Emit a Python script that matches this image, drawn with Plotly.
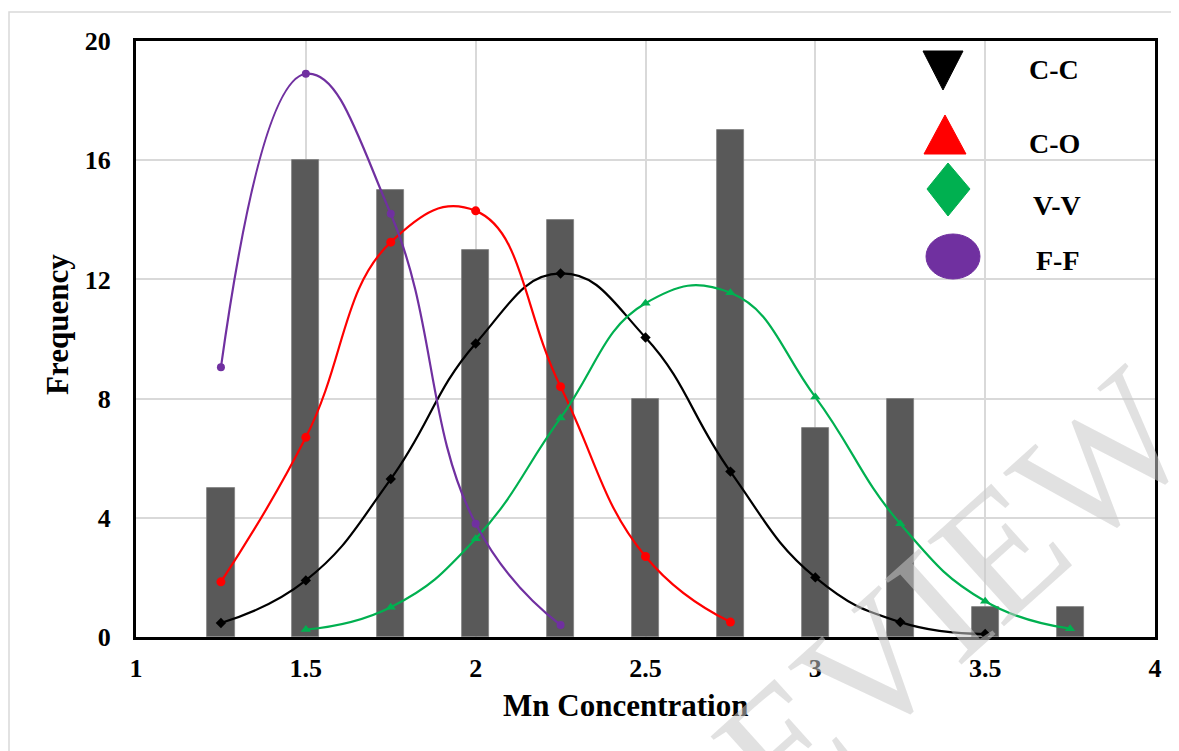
import plotly.graph_objects as go

# ---------------- data ----------------
bins = [1.25, 1.5, 1.75, 2.0, 2.25, 2.5, 2.75, 3.0, 3.25, 3.5, 3.75]
freq = [5, 16, 15, 13, 14, 8, 17, 7, 8, 1, 1]

cc_x = [1.25, 1.5, 1.75, 2.0, 2.25, 2.5, 2.75, 3.0, 3.25, 3.5]
cc_y = [0.47, 1.9, 5.3, 9.85, 12.2, 10.05, 5.55, 2.0, 0.5, 0.1]

co_x = [1.25, 1.5, 1.75, 2.0, 2.25, 2.5, 2.75]
co_y = [1.85, 6.7, 13.25, 14.3, 8.4, 2.7, 0.5]

vv_x = [1.5, 1.75, 2.0, 2.25, 2.5, 2.75, 3.0, 3.25, 3.5, 3.75]
vv_y = [0.25, 1.0, 3.3, 7.35, 11.2, 11.55, 8.05, 3.8, 1.2, 0.28]

ff_x = [1.25, 1.5, 1.75, 2.0, 2.25]
ff_y = [9.05, 18.9, 14.2, 3.8, 0.4]

x_ticks = [1, 1.5, 2, 2.5, 3, 3.5, 4]
x_tick_labels = ["1", "1.5", "2", "2.5", "3", "3.5", "4"]
y_ticks = [0, 4, 8, 12, 16, 20]

legend_names = ["C-C", "C-O", "V-V", "F-F"]

# ---------------- figure ----------------
OFF = 8  # page body margin
W, H = 1179 - OFF, 751 - OFF
L, T = 136 - OFF, 41 - OFF
R = OFF + W - 1155
B = OFF + H - 637
PW, PH = W - L - R, H - T - B

def px(x):
    return (x - OFF - L) / PW

def py(y):
    return (OFF + H - B - y) / PH

fig = go.Figure()

fig.add_trace(go.Bar(
    x=bins, y=freq, width=0.08,
    marker=dict(color="#595959", line=dict(color="#7f7f7f", width=0.8)),
    showlegend=False,
))

series = [
    (cc_x, cc_y, "black", "diamond", 8),
    (co_x, co_y, "#ff0000", "circle", 9),
    (vv_x, vv_y, "#00b050", "triangle-up", 9),
    (ff_x, ff_y, "#7030a0", "circle", 8),
]
for (xs, ys, col, sym, sz), name in zip(series, legend_names):
    fig.add_trace(go.Scatter(
        x=xs, y=ys, name=name, mode="lines+markers",
        line=dict(color=col, width=2.2, shape="spline", smoothing=1.3),
        marker=dict(color=col, symbol=sym, size=sz),
        showlegend=False,
    ))

tickfont = dict(family="Liberation Serif", size=26, color="black", weight="bold")

fig.update_xaxes(
    range=[1, 4], tickvals=x_ticks, ticktext=x_tick_labels,
    showgrid=True, gridcolor="#d9d9d9", gridwidth=1.5,
    showline=True, linecolor="black", linewidth=3, mirror=True,
    ticks="", zeroline=False, tickfont=tickfont, ticklabelstandoff=6,
)
fig.update_yaxes(
    range=[0, 20], tickvals=y_ticks,
    showgrid=True, gridcolor="#d9d9d9", gridwidth=1.5,
    showline=True, linecolor="black", linewidth=3, mirror=True,
    ticks="", zeroline=False, tickfont=tickfont, ticklabelstandoff=17,
)

shapes = []
# outer light border
shapes.append(dict(type="rect", xref="paper", yref="paper",
                   x0=px(9), x1=px(1200), y0=py(800), y1=py(12),
                   line=dict(color="#d9d9d9", width=1.5), layer="below"))

# legend glyphs (in paper coords)
def path(points):
    s = "M " + " L ".join(f"{px(a):.5f},{py(b):.5f}" for a, b in points) + " Z"
    return s

shapes.append(dict(type="path", xref="paper", yref="paper",
                   path=path([(923, 51), (963, 51), (943, 90)]),
                   fillcolor="black", line=dict(color="black", width=1)))
shapes.append(dict(type="path", xref="paper", yref="paper",
                   path=path([(945, 115), (966, 154), (924, 154)]),
                   fillcolor="#ff0000", line=dict(color="#ff0000", width=1)))
shapes.append(dict(type="path", xref="paper", yref="paper",
                   path=path([(948, 163), (970, 189), (948, 216), (927, 189)]),
                   fillcolor="#00b050", line=dict(color="#00b050", width=1)))
shapes.append(dict(type="circle", xref="paper", yref="paper",
                   x0=px(926), x1=px(980), y0=py(279), y1=py(234),
                   fillcolor="#7030a0", line=dict(color="#7030a0", width=1)))

annotations = []
legend_pos = [(1054, 70), (1054, 144), (1057, 206), (1058, 260)]
for name, (ax, ay) in zip(legend_names, legend_pos):
    annotations.append(dict(
        text=name, xref="paper", yref="paper", x=px(ax), y=py(ay),
        xanchor="center", yanchor="middle", showarrow=False,
        font=dict(family="Liberation Serif", size=28, color="black", weight="bold"),
    ))

annotations.append(dict(
    text="Mn Concentration", xref="paper", yref="paper", x=px(625), y=py(705),
    xanchor="center", yanchor="middle", showarrow=False,
    font=dict(family="Liberation Serif", size=31, color="black", weight="bold"),
))
annotations.append(dict(
    text="Frequency", xref="paper", yref="paper", x=px(57), y=py(325),
    xanchor="center", yanchor="middle", showarrow=False, textangle=-90,
    font=dict(family="Liberation Serif", size=31, color="black", weight="bold"),
))
# watermark
annotations.append(dict(
    text="PREVIEW", xref="paper", yref="paper", x=px(874), y=py(664),
    xanchor="center", yanchor="middle", showarrow=False, textangle=-42,
    font=dict(family="Liberation Serif", size=175, color="rgba(200,200,200,0.55)"),
))

fig.update_layout(
    width=W, height=H,
    margin=dict(l=L, r=R, t=T, b=B),
    paper_bgcolor="white", plot_bgcolor="white",
    shapes=shapes, annotations=annotations,
    showlegend=False, bargap=0,
)

fig.write_html("out.html")
